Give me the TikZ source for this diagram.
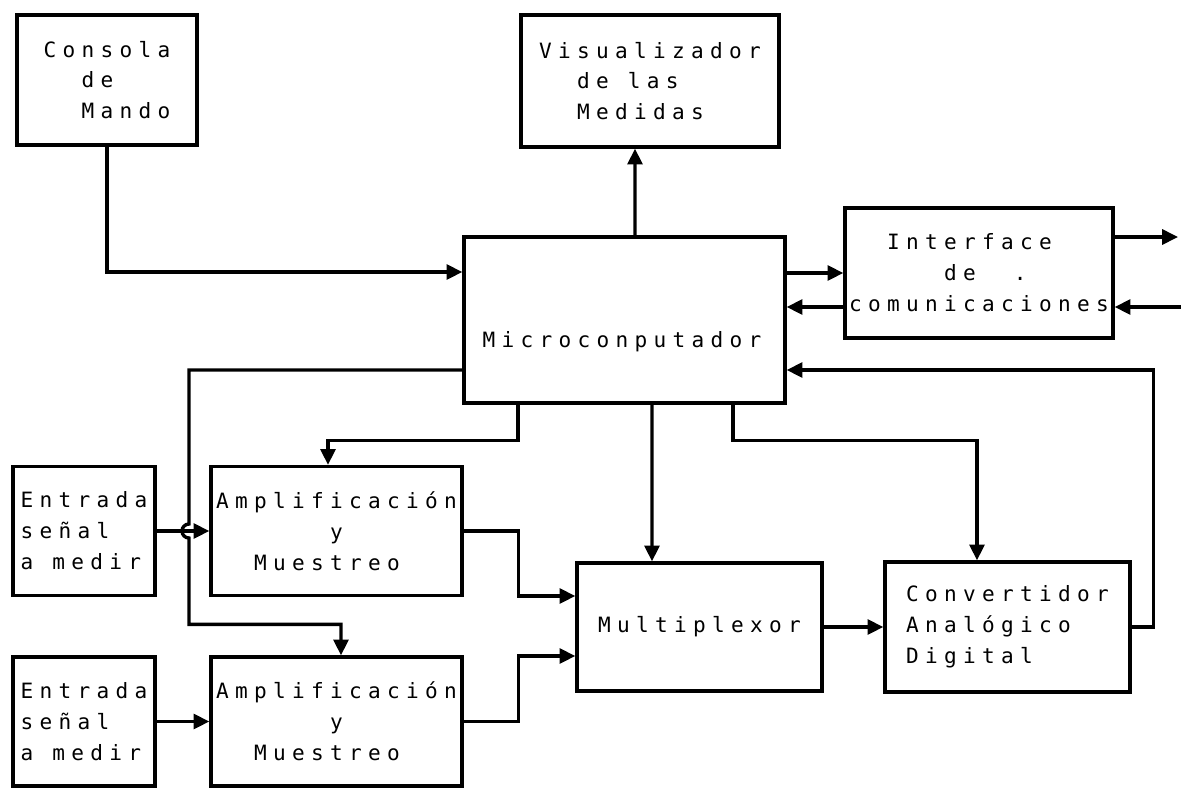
\documentclass[tikz,border=0pt]{standalone}
\usepackage{fontspec}
\usetikzlibrary{arrows.meta,calc}
\newfontfamily\plotfont[LetterSpace=30]{DejaVu Sans Mono}
\newlength{\cw}
\newlength{\cwone}
\AtBeginDocument{%
 \settowidth{\cw}{\plotfont\fontsize{12}{17.6}\selectfont MM}%
 \settowidth{\cwone}{\plotfont\fontsize{12}{17.6}\selectfont M}%
 \addtolength{\cw}{-\cwone}}
\newcommand{\sk}[1]{\hspace*{#1\cw}}
\tikzset{
 blk/.style={draw, line width=1.9pt, inner sep=0pt, align=left,
  font=\plotfont\fontsize{12}{17.6}\selectfont},
 txt/.style={inner sep=0pt, font=\plotfont\fontsize{12}{17.6}\selectfont},
 dim/.style 2 args={minimum width=#1*0.02cm, minimum height=#2*0.02cm},
 wire/.style={line width=1.9pt},
 arr/.style={wire, -{Triangle[length=9pt,width=8.5pt]}}
}

\begin{document}
\begin{tikzpicture}[x=0.02cm, y=-0.02cm]
\useasboundingbox (0,0) rectangle (1181,789);
\node[blk,dim={180}{130}] (cons) at (107,80) {Consola\\\sk{2}de\\\sk{2}Mando};
\node[blk,dim={258}{132}] (vis) at (650,81) {Visualizador\\\sk{2}de\sk{1}las\\\sk{2}Medidas};
\node[blk,dim={321}{166}] (micro) at (624.5,320) {};
\node[txt] (microtxt) at (622,342) {Microconputador};
\node[blk,dim={268}{130}] (iface) at (979,273) {\sk{2}Interface\\\sk{5}de\sk{2}.\\comunicaciones};
\node[blk,dim={245}{128}] (mux) at (699.5,627) {Multiplexor};
\node[blk,dim={245}{130}] (conv) at (1007.5,627) {Convertidor\\Analógico\\Digital};
\foreach \i/\y/\dy in {1/531/-31, 2/721.5/29} {
 \node[blk,dim={142}{129}] (ent\i) at (84,\y) {Entrada\\señal\\a\sk{1}medir};
 \node[blk,dim={251}{129}] (amp\i) at (336.5,\y) {Amplificación\\\sk{6}y\\\sk{2}Muestreo};
 \draw[arr] (ent\i) -- (amp\i);
 \draw[arr] (amp\i.east) -- ++(55,0) |- ($(mux.west)+(0,\dy)$);
}
\coordinate (busout) at (1178,237);
\coordinate (busin) at (1181,307);
\draw[arr] (cons.south) |- ($(micro.west)+(0,-48)$);
\draw[arr] ($(micro.north)+(10.5,0)$) -- ($(vis.south)+(-15,0)$);
\draw[arr] ($(micro.east)+(0,-47)$) -- (iface.west);
\draw[arr] ($(iface.west)+(0,34)$) -- ($(micro.east)+(0,-13)$);
\draw[arr] ($(iface.east)+(0,-36)$) -- (busout);
\draw[arr] (busin) -- ($(iface.east)+(0,34)$);
% left line down to the second channel, hops over the first input
\draw[arr] ($(micro.west)+(0,50)$) -| (189,524)
 arc[start angle=90, end angle=270, radius=0.14cm]
 |- ($(amp2.north)+(4.5,-31)$) -- ($(amp2.north)+(4.5,0)$);
\draw[arr] ($(micro.south)+(-106.5,0)$) -- ++(0,36) -| ($(amp1.north)+(-8.5,0)$);
\draw[arr] ($(micro.south)+(27.5,0)$) -- ($(mux.north)+(-47.5,0)$);
\draw[arr] ($(micro.south)+(108.5,0)$) -- ++(0,36) -| ($(conv.north)+(-30.5,0)$);
\draw[arr] (conv.east) -- ++(22,0) |- ($(micro.east)+(0,50)$);
\draw[arr] (mux) -- (conv);
\end{tikzpicture}
\end{document}
